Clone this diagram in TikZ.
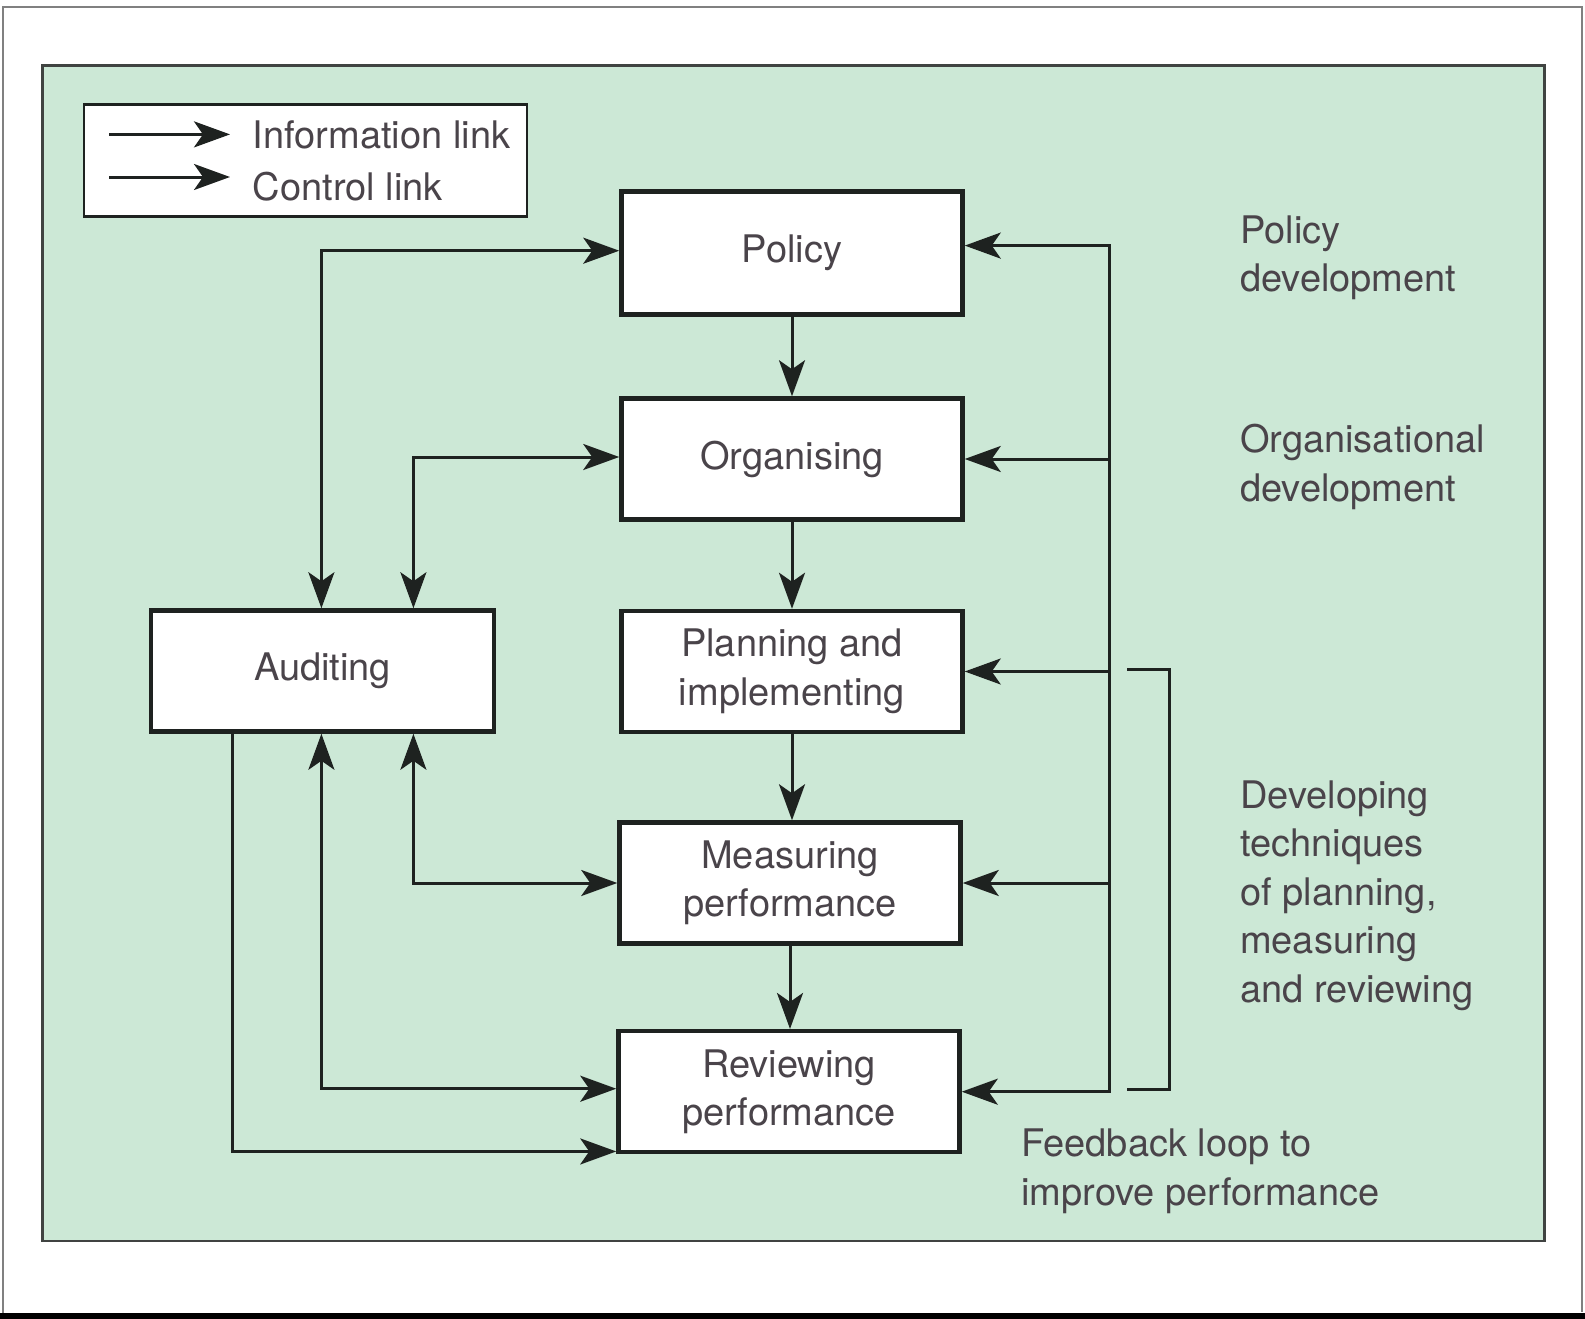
\documentclass[tikz,border=0pt]{standalone}
\usepackage{fontspec}
\setmainfont{TeX Gyre Heros}
\usetikzlibrary{arrows.meta}
\definecolor{panel}{RGB}{204,232,214}
\definecolor{ink}{RGB}{30,34,32}
\definecolor{txt}{RGB}{74,68,74}

\begin{document}
\begin{tikzpicture}[x=1pt,y=-1pt,
  box/.style={draw=ink, line width=4.5pt, fill=white, minimum width=341pt,
    minimum height=121pt, align=center, inner sep=0pt, text=txt,
    font=\fontsize{38}{48.5}\selectfont},
  link/.style={draw=ink, line width=3pt, -{Stealth[length=36pt,width=26pt,inset=9pt]}},
  dlink/.style={draw=ink, line width=3pt,
    {Stealth[length=36pt,width=26pt,inset=9pt]}-{Stealth[length=36pt,width=26pt,inset=9pt]}},
  note/.style={anchor=west, align=left, inner sep=0pt, text=txt,
    font=\fontsize{38}{48.5}\selectfont}]
\useasboundingbox (0,0) rectangle (1585,1319);
\fill [white] (0,0) rectangle (1585,1319);
\draw [gray, line width=2pt] (3,1319) -- (3,7) -- (1582,7) -- (1582,1312);
\draw [black, line width=6pt] (0,1316) -- (1585,1316);
\draw [fill=panel, draw=ink!85, line width=2.5pt] (42.5,65.7) rectangle (1544.5,1241);

% legend
\node [draw=ink, line width=2.5pt, fill=white, minimum width=443pt,
  minimum height=112pt, inner sep=0pt] (legend) at (305.7,160.7) {};
\coordinate (infoA) at (109,134.4);
\coordinate (infoB) at (230,134.4);
\coordinate (ctrlA) at (109,177);
\coordinate (ctrlB) at (230,177);
\draw [link] (infoA) -- (infoB);
\draw [link] (ctrlA) -- (ctrlB);
\node [note] (infotxt) at (252.7,134.4) {Information link};
\node [note] (ctrltxt) at (252.7,187) {Control link};

% boxes
\node [box, minimum height=123pt] (policy) at (792,253) {Policy};
\node [box] (organising) at (792,459) {Organising};
\node [box] (planning) at (792,671.5) {Planning and\\implementing};
\node [box] (measuring) at (790,883) {Measuring\\performance};
\node [box] (reviewing) at (789,1091.7) {Reviewing\\performance};
\node [box, minimum width=343pt] (auditing) at (322.5,671) {Auditing};

% main chain
\draw [link] (policy.south) -- (organising.north);
\draw [link] (organising.south) -- (planning.north);
\draw [link] (planning.south) -- (planning.south |- measuring.north);
\draw [link] (measuring.south) -- (measuring.south |- reviewing.north);

% auditing links
\coordinate (auL) at (321.4,250.7);
\coordinate (auR) at (413.4,457);
\coordinate (auF) at (232.5,0);
\draw [dlink] (auditing.north -| auL) |- (auL -| policy.west);
\draw [dlink] (auditing.north -| auR) |- (auR -| organising.west);
\draw [dlink] (auditing.south -| auR) |- (measuring.west);
\draw [dlink] (auditing.south -| auL) |- ([yshift=3pt]reviewing.west);
\draw [link] (auditing.south -| auF) |- ([yshift=3pt]reviewing.south west);

% feedback rail
\coordinate (rail) at (1109.9,245.6);
\draw [dlink] (reviewing.east) -| (rail) -- (rail -| policy.east);
\draw [link] (rail |- organising.east) -- (organising.east);
\draw [link] (rail |- planning.east) -- (planning.east);
\draw [link] (rail |- measuring.east) -- (measuring.east);

% bracket
\draw [ink, line width=3pt] (1127,669) -| (1169.5,1089.6) -- (1127,1089.6);

% side notes
\node [note] (polnote) at (1240,257.7) {Policy\\development};
\node [note] (orgnote) at (1240,467) {Organisational\\development};
\node [note] (devnote) at (1240,895.5) {Developing\\techniques\\of planning,\\measuring\\and reviewing};
\node [note] (fbnote) at (1021,1171.5) {Feedback loop to\\improve performance};
\end{tikzpicture}
\end{document}
